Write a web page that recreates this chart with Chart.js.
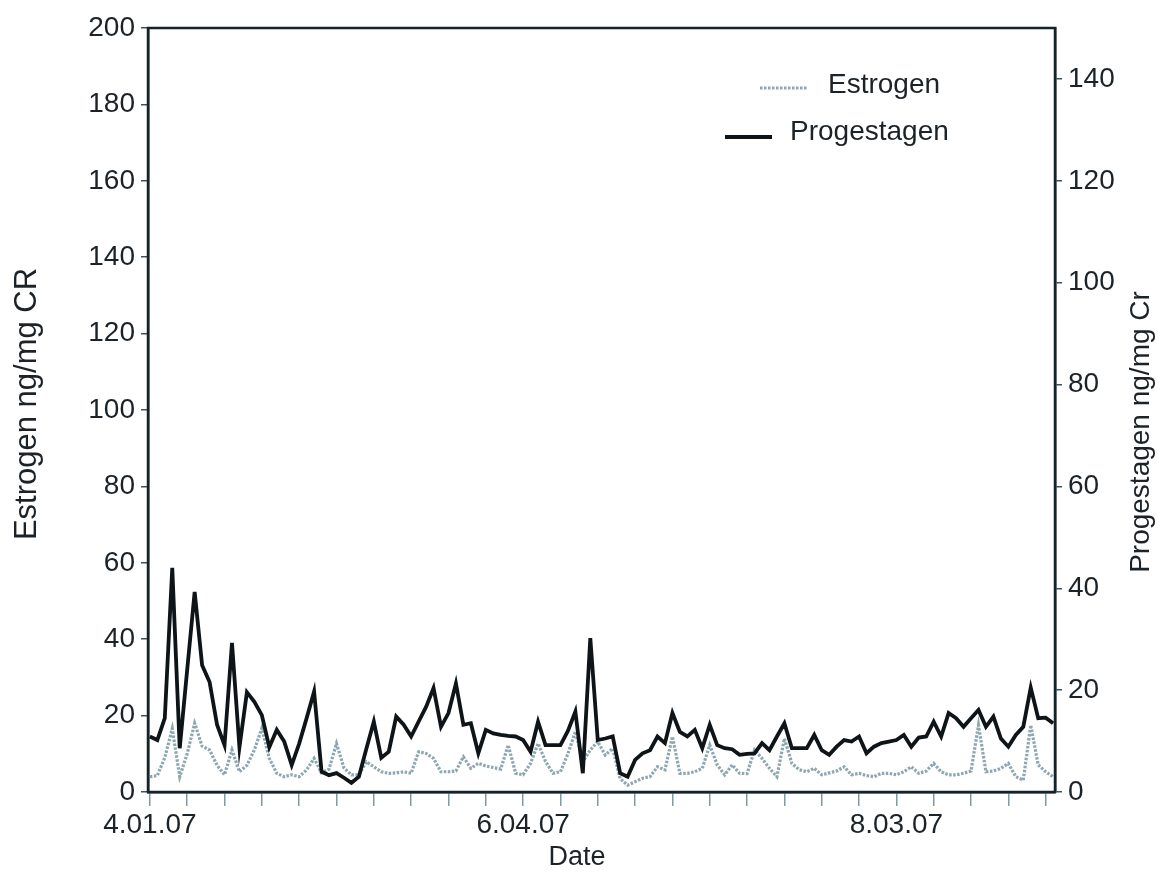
<!DOCTYPE html>
<html>
<head>
<meta charset="utf-8">
<title>Estrogen / Progestagen</title>
<script src="https://cdn.jsdelivr.net/npm/chart.js@4.4.1/dist/chart.umd.min.js"></script>
<style>
  html, body { margin: 0; padding: 0; background: #fff; }
  #wrap { width: 1158px; height: 875px; }
</style>
</head>
<body>
<div id="wrap"><canvas id="hormonas"></canvas></div>
<script>
// Muestras consecutivas (índice de muestra en el eje X)
const estrogen = [
  4.0, 4.3, 9, 16.6, 4.0, 10, 18, 12, 11, 7, 4.5, 11, 5.3, 7, 11, 16.7, 8.8, 4.9, 4.0, 4.5, 4.0,
  5.8, 8.8, 5, 6, 12.7, 6.3, 4.5, 4.5, 7.9, 6.6, 5.3, 4.9, 5, 5.3, 4.9, 10.5, 10.1, 8.8, 5.3, 5.3,
  5.5, 9.2, 6.2, 7.5, 6.8, 6.4, 6.0, 12.3, 4.9, 4.5, 7.5, 12.7, 8.0, 4.9, 5.3, 10, 15.8, 8, 11, 13.2,
  9.7, 11.4, 3.5, 1.8, 2.7, 3.6, 4.0, 6.6, 5.8, 14.5, 4.9, 4.9, 5.3, 6.2, 12.3, 7.1, 4.5, 7.1, 4.9, 4.8,
  11, 8.8, 6.2, 4.0, 14, 7.5, 5.8, 5.3, 6.2, 4.5, 5.0, 5.5, 6.6, 4.5, 4.9, 4.3, 4.0, 4.9, 4.9, 4.5,
  5.3, 6.6, 4.9, 5.5, 7.5, 5.3, 4.5, 4.5, 4.9, 5.5, 17.5, 5.3, 5.5, 6.2, 7.5, 4.0, 3.1, 17.5, 7.1, 5.3, 4.0
];

const progestagen = [
  10.9, 10.2, 14.5, 44, 8.6, 24, 39.3, 24.9, 21.6, 13.2, 9.2, 29.3, 8.8, 19.6, 17.7, 15.1, 8.8, 12.2, 9.9, 5.3, 9.5,
  14.5, 19.7, 4.0, 3.3, 3.7, 2.8, 1.8, 3.0, 8.5, 13.8, 6.7, 7.9, 14.8, 13.2, 10.9, 13.8, 16.7, 20.4, 12.8, 15.5,
  21.3, 13.2, 13.5, 7.6, 12.2, 11.5, 11.2, 11.0, 10.9, 10.2, 7.9, 13.8, 9.2, 9.2, 9.2, 12, 15.8, 3.7, 30.2, 10.2,
  10.5, 10.9, 3.7, 3.0, 6.3, 7.6, 8.2, 10.9, 9.6, 15.5, 11.8, 10.9, 12.2, 8.6, 13.2, 9.2, 8.6, 8.4, 7.3, 7.5,
  7.6, 9.6, 8.2, 10.9, 13.5, 8.6, 8.6, 8.6, 11.2, 8.2, 7.3, 8.9, 10.2, 9.9, 10.9, 7.6, 8.9, 9.6, 9.9, 10.2,
  11.2, 8.9, 10.7, 10.9, 13.8, 10.9, 15.5, 14.5, 12.8, 14.5, 16.1, 12.8, 14.8, 10.5, 8.9, 11.2, 12.8, 20.5, 14.5, 14.6, 13.5
];

// Fechas rotuladas en el eje X y su posición (índice de muestra)
const dateTicks = [0, 50, 100];
const dateLabels = ["4.01.07", "6.04.07", "8.03.07"];
const leftTicks = [0, 20, 40, 60, 80, 100, 120, 140, 160, 180, 200];
const rightTicks = [0, 20, 40, 60, 80, 100, 120, 140];

const FONT = "'Liberation Sans', Arial, sans-serif";
const TEXT = "#1b2328";
const AXIS = "#14222a";

const asPoints = arr => arr.map((v, i) => ({ x: i, y: v }));

/* ------------------------------------------------------------
   Marco, títulos de ejes y leyenda
------------------------------------------------------------ */
const decoracion = {
  id: "decoracion",
  afterDraw(chart) {
    const { ctx, chartArea: a } = chart;
    const ds = chart.data.datasets;
    ctx.save();

    // marco completo del área de trazado
    ctx.strokeStyle = AXIS;
    ctx.lineWidth = 2.5;
    ctx.strokeRect(a.left, a.top, a.right - a.left, a.bottom - a.top);

    ctx.fillStyle = TEXT;
    ctx.textAlign = "center";
    ctx.textBaseline = "middle";
    ctx.font = "27px " + FONT;
    ctx.fillText("Date", a.left + 429, a.bottom + 66);

    ctx.save();
    ctx.font = "31px " + FONT;
    ctx.translate(a.left - 121, a.top + 376);
    ctx.rotate(-Math.PI / 2);
    ctx.fillText("Estrogen ng/mg CR", 0, 0);
    ctx.restore();

    ctx.save();
    ctx.font = "28px " + FONT;
    ctx.translate(a.right + 86, a.top + 404);
    ctx.rotate(-Math.PI / 2);
    ctx.fillText("Progestagen ng/mg Cr", 0, 0);
    ctx.restore();

    // leyenda
    ctx.font = "28px " + FONT;
    const items = [
      { d: ds[1], x0: a.right - 295, x1: a.right - 248, y: a.top + 60, tx: a.right - 227, ty: a.top + 57 },
      { d: ds[0], x0: a.right - 330, x1: a.right - 283, y: a.top + 109, tx: a.right - 265, ty: a.top + 104 }
    ];
    ctx.textAlign = "left";
    items.forEach(it => {
      ctx.beginPath();
      ctx.setLineDash(it.d.borderDash || []);
      ctx.strokeStyle = it.d.borderColor;
      ctx.lineWidth = it.d.borderWidth;
      ctx.moveTo(it.x0, it.y);
      ctx.lineTo(it.x1, it.y);
      ctx.stroke();
      ctx.setLineDash([]);
      ctx.fillStyle = TEXT;
      ctx.fillText(it.d.label, it.tx, it.ty);
    });
    ctx.restore();
  }
};

new Chart(document.getElementById("hormonas"), {
  type: "line",
  plugins: [decoracion],
  data: {
    datasets: [
      {
        label: "Progestagen",
        data: asPoints(progestagen),
        yAxisID: "yP",
        borderColor: "#0e1417",
        borderWidth: 3.8,
        borderJoinStyle: "miter",
        pointRadius: 0,
        tension: 0,
        order: 0
      },
      {
        label: "Estrogen",
        data: asPoints(estrogen),
        yAxisID: "yE",
        borderColor: "#8ca7b2",
        borderWidth: 3.2,
        borderDash: [2.5, 1.5],
        pointRadius: 0,
        tension: 0,
        order: 1
      }
    ]
  },
  options: {
    responsive: true,
    maintainAspectRatio: false,
    animation: false,
    layout: { padding: { top: 28, left: 0, right: 0, bottom: 0 } },
    plugins: { legend: { display: false }, tooltip: { enabled: false } },
    scales: {
      x: {
        type: "linear",
        min: -0.25,
        max: 121.25,
        afterBuildTicks: s => {
          const t = [];
          for (let v = 0; v <= 120; v += 5) t.push({ value: v });
          s.ticks = t;
        },
        afterFit: s => { s.height = 83; },
        ticks: {
          autoSkip: false,
          maxRotation: 0,
          padding: 2,
          color: TEXT,
          font: { family: FONT, size: 28 },
          callback: v => {
            const k = dateTicks.indexOf(v);
            return k >= 0 ? dateLabels[k] : "";
          }
        },
        grid: { drawOnChartArea: false, tickLength: 14, color: "#7d9aa6", lineWidth: 1.5 },
        border: { display: true, color: AXIS, width: 2.5 }
      },
      yE: {
        position: "left",
        min: 0,
        max: 200,
        afterBuildTicks: s => { s.ticks = leftTicks.map(v => ({ value: v })); },
        afterFit: s => { s.width = 148; },
        ticks: { padding: 6, color: TEXT, font: { family: FONT, size: 28 } },
        grid: { drawOnChartArea: false, tickLength: 7, color: "#3b5560", lineWidth: 1.5 },
        border: { display: true, color: AXIS, width: 2.5 }
      },
      yP: {
        position: "right",
        min: 0,
        max: 150,
        afterBuildTicks: s => { s.ticks = rightTicks.map(v => ({ value: v })); },
        afterFit: s => { s.width = 103; },
        ticks: { padding: 6, color: TEXT, font: { family: FONT, size: 28 } },
        grid: { drawOnChartArea: false, tickLength: 7, color: "#3b5560", lineWidth: 1.5 },
        border: { display: true, color: AXIS, width: 2.5 }
      }
    }
  }
});
</script>
</body>
</html>
